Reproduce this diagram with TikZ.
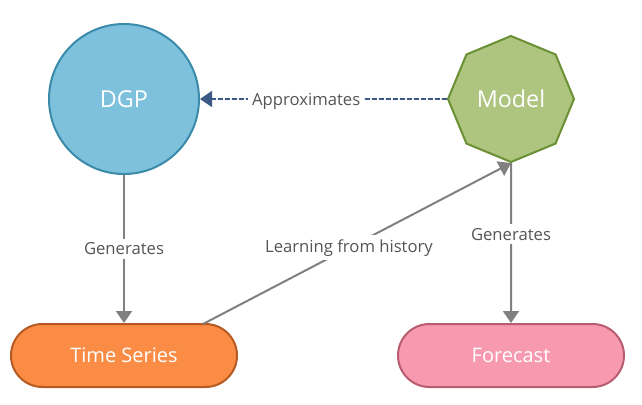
\documentclass[tikz,border=0pt]{standalone}
\usepackage{fontspec}
\setmainfont{Open Sans}
\usetikzlibrary{shapes.geometric,arrows.meta}
\definecolor{dgpfill}{HTML}{7EC1DD}
\definecolor{dgpdraw}{HTML}{3A8BAA}
\definecolor{modfill}{HTML}{ADC57F}
\definecolor{moddraw}{HTML}{6B8F33}
\definecolor{tsfill}{HTML}{FA8C45}
\definecolor{tsdraw}{HTML}{B65A22}
\definecolor{fcfill}{HTML}{F79AAF}
\definecolor{fcdraw}{HTML}{B85C70}
\definecolor{edgegray}{HTML}{808080}
\definecolor{labelgray}{HTML}{555555}
\definecolor{dashblue}{HTML}{3A5A85}
\begin{document}
\begin{tikzpicture}[x=0.75pt,y=-0.75pt,
  shapetext/.style={text=white, font=\fontsize{15}{18}\selectfont, line width=1.5pt, inner sep=0pt},
  bigtext/.style={font=\fontsize{17.5}{21}\selectfont},
  dgpnode/.style={shapetext, bigtext, circle, fill=dgpfill, draw=dgpdraw, minimum size=112.5pt},
  modelnode/.style={shapetext, bigtext, regular polygon, regular polygon sides=8, shape border rotate=22.5, fill=modfill, draw=moddraw, minimum size=94.5pt},
  pill/.style={shapetext, rectangle, rounded corners=23.6pt, minimum width=169.5pt, minimum height=47.25pt},
  flow/.style={draw=edgegray, line width=1.5pt, -{Triangle[length=9pt,width=12pt]}},
  approx/.style={draw=dashblue, line width=1.3pt, dash pattern=on 3.75pt off 1.5pt, -{Triangle[length=9pt,width=12pt]}},
  edgelabel/.style={fill=white, text=labelgray, font=\fontsize{12.5}{15}\selectfont, inner sep=3pt}
]
\useasboundingbox (0,0) rectangle (642,404);
\node[dgpnode] (dgp) at (124,99) {DGP};
\node[modelnode] (model) at (511,99) {Model};
\node[pill, fill=tsfill, draw=tsdraw] (ts) at (124,355.5) {Time Series};
\node[pill, fill=fcfill, draw=fcdraw] (fc) at (511,355.5) {Forecast};
\coordinate (tsout) at (203,324);

\draw[flow] (dgp.south) -- node[edgelabel] (l1) {Generates} (ts.north);
\draw[flow] (model.-90) -- node[edgelabel, pos=0.444] (l2) {Generates} (fc.north);
\draw[flow] (tsout) -- node[edgelabel, pos=0.474] (l3) {Learning from history} (model.-90);
\draw[approx] (model.west) -- node[edgelabel, pos=0.57, yshift=-1.5pt] (l4) {Approximates} (dgp.east);
\end{tikzpicture}
\end{document}
